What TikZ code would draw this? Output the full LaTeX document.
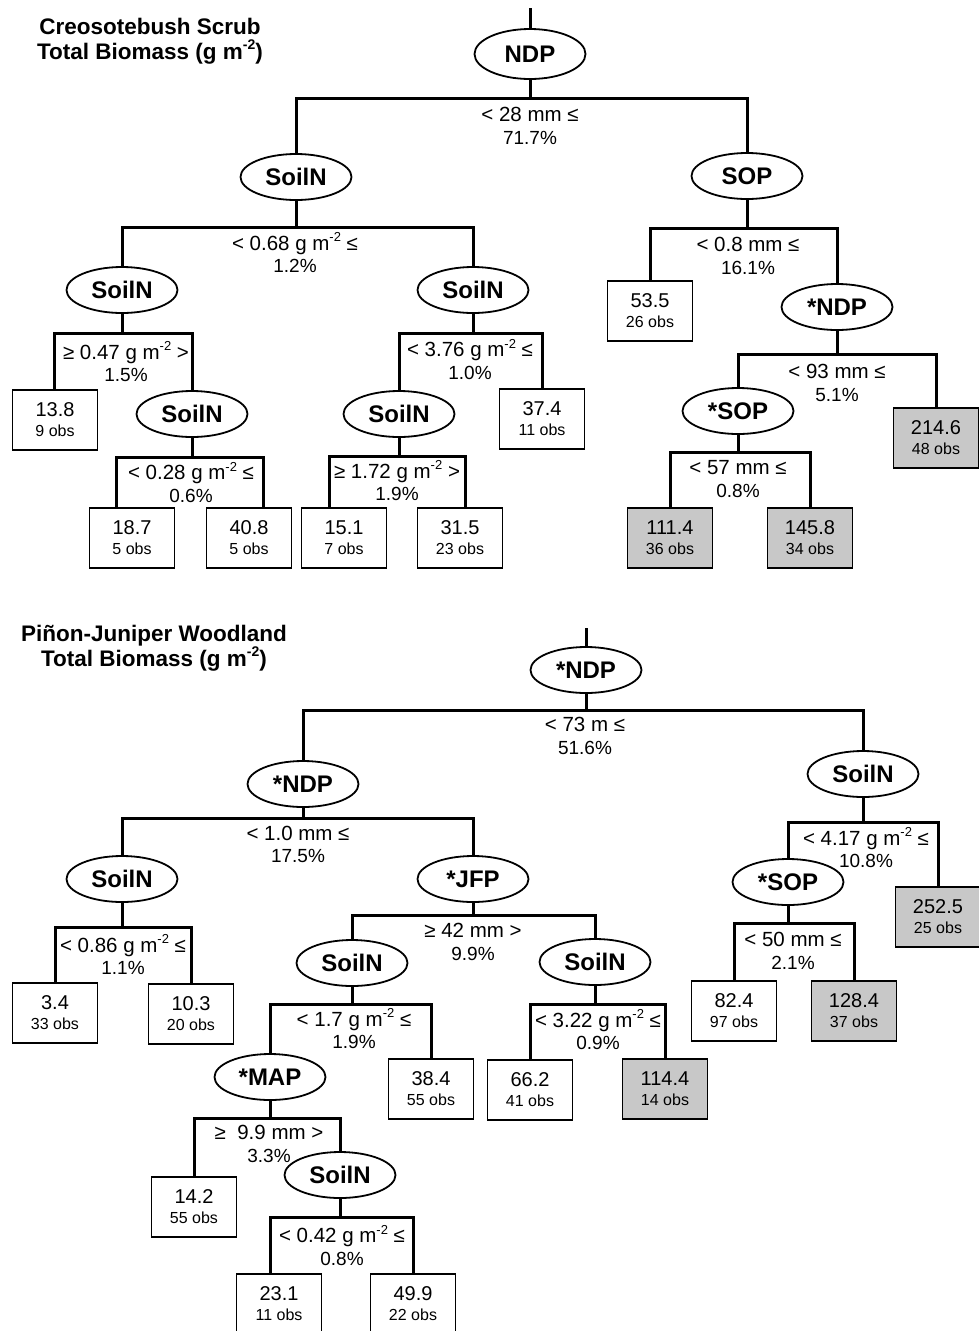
\documentclass[tikz,border=0pt]{standalone}
\usepackage{fontspec}
\setmainfont{Liberation Sans}
\usetikzlibrary{shapes.geometric,calc}
\definecolor{leafgray}{RGB}{200,200,200}
\newcommand\mmtwo{\smash{\raisebox{8.5pt}{\fontsize{13}{13}\selectfont -2}}}
\newcommand\tsupr{\smash{\raisebox{9.5pt}{\fontsize{14}{14}\selectfont -2}}}
\newcommand\lfx[2]{{\fontsize{20}{20}\selectfont #1}\\#2}
\newcommand\lbl[2]{{\fontsize{20.5}{22.5}\selectfont #1}\\#2}
\newcommand\treesplit[6]{%
  \coordinate (#1-bar) at (#1.south |- 0,#4);
  \draw[conn] ($(#2.north)+(#5,0)$) -- ($(#2.north |- #1-bar)+(#5,0)$) -- ($(#3.north |- #1-bar)+(#6,0)$) -- ($(#3.north)+(#6,0)$);
  \draw[conn] (#1.south) -- (#1-bar);
}
\tikzset{
  ell/.style={ellipse, draw, line width=1.8pt, minimum width=111pt, minimum height=46pt, inner sep=0pt, font=\fontsize{24}{24}\selectfont\bfseries},
  leaf/.style={rectangle, draw, line width=1.8pt, minimum width=85pt, minimum height=60pt, inner sep=0pt, align=center, font=\fontsize{16}{20}\selectfont, fill=white},
  gleaf/.style={leaf, fill=leafgray},
  lab/.style={align=center, inner sep=0pt, font=\fontsize{19}{22.5}\selectfont},
  conn/.style={line width=3pt},
  ttl/.style={align=center, inner sep=0pt, font=\fontsize{22.5}{25}\selectfont\bfseries},
}
\begin{document}
\begin{tikzpicture}[x=1pt,y=-1pt]
\useasboundingbox (0,0) rectangle (979,1331);
\clip (0,0) rectangle (979,1331);
\fill[white] (0,0) rectangle (979,1331);

% ---------------- Top tree ----------------
\node[ttl] (title1) at (150,41) {Creosotebush Scrub\\Total Biomass (g m\tsupr)};

\node[ell, minimum height=50pt] (t0) at (530,54) {NDP};
\node[ell] (t1) at (296,177) {SoilN};
\node[ell] (t2) at (747,176) {SOP};
\node[ell] (t3) at (122,290) {SoilN};
\node[ell] (t4) at (473,290) {SoilN};
\node[ell] (t5) at (192,414) {SoilN};
\node[ell] (t6) at (399,414) {SoilN};
\node[ell] (t7) at (837,307) {*NDP};
\node[ell] (t8) at (738,411) {*SOP};

\node[leaf] (l138) at (55,420) {\lfx{13.8}{9 obs}};
\node[leaf] (l187) at (132,538) {\lfx{18.7}{5 obs}};
\node[leaf] (l408) at (249,538) {\lfx{40.8}{5 obs}};
\node[leaf] (l374) at (542,419) {\lfx{37.4}{11 obs}};
\node[leaf] (l151) at (344,538) {\lfx{15.1}{7 obs}};
\node[leaf] (l315) at (460,538) {\lfx{31.5}{23 obs}};
\node[leaf] (l535) at (650,311) {\lfx{53.5}{26 obs}};
\node[gleaf] (l2146) at (936,438) {\lfx{214.6}{48 obs}};
\node[gleaf] (l1114) at (670,538) {\lfx{111.4}{36 obs}};
\node[gleaf] (l1458) at (810,538) {\lfx{145.8}{34 obs}};

\node[lab] (c1) at (530,126) {\lbl{< 28 mm ≤}{71.7\%}};
\node[lab] (c2) at (295,254.5) {\lbl{< 0.68 g m\mmtwo{} ≤}{1.2\%}};
\node[lab] (c3) at (126,363.5) {\lbl{≥ 0.47 g m\mmtwo{} >}{1.5\%}};
\node[lab] (c4) at (191,484) {\lbl{< 0.28 g m\mmtwo{} ≤}{0.6\%}};
\node[lab] (c5) at (470,361) {\lbl{< 3.76 g m\mmtwo{} ≤}{1.0\%}};
\node[lab] (c6) at (397,482.5) {\lbl{≥ 1.72 g m\mmtwo{} >}{1.9\%}};
\node[lab] (c7) at (748,256) {\lbl{< 0.8 mm ≤}{16.1\%}};
\node[lab] (c8) at (837,383) {\lbl{< 93 mm ≤}{5.1\%}};
\node[lab] (c9) at (738,479) {\lbl{< 57 mm ≤}{0.8\%}};

\coordinate (r0) at (530,8);
\draw[conn] (r0) -- (t0.north);
\treesplit{t0}{t1}{t2}{98}{0}{0}
\treesplit{t1}{t3}{t4}{227}{0}{0}
\treesplit{t3}{l138}{t5}{333}{-1}{0}
\treesplit{t5}{l187}{l408}{457}{-16}{14}
\treesplit{t4}{t6}{l374}{333}{0}{0}
\treesplit{t6}{l151}{l315}{456}{-15}{5}
\treesplit{t2}{l535}{t7}{228}{0}{0}
\treesplit{t7}{t8}{l2146}{354}{0}{0}
\treesplit{t8}{l1114}{l1458}{452}{0}{0}

% ---------------- Bottom tree ----------------
\node[ttl] (title2) at (154,648) {Piñon-Juniper Woodland\\Total Biomass (g m\tsupr)};

\node[ell] (b0) at (586,670) {*NDP};
\node[ell] (b1) at (303,784) {*NDP};
\node[ell] (b2) at (863,774) {SoilN};
\node[ell] (b3) at (122,879) {SoilN};
\node[ell] (b4) at (473,879) {*JFP};
\node[ell] (b5) at (352,963) {SoilN};
\node[ell] (b6) at (595,962) {SoilN};
\node[ell] (b7) at (270,1077) {*MAP};
\node[ell] (b8) at (340,1175) {SoilN};
\node[ell] (b9) at (788,882) {*SOP};

\node[leaf] (l34) at (55,1013) {\lfx{3.4}{33 obs}};
\node[leaf] (l103) at (191,1014) {\lfx{10.3}{20 obs}};
\node[leaf] (l384) at (431,1089) {\lfx{38.4}{55 obs}};
\node[leaf] (l142) at (194,1207) {\lfx{14.2}{55 obs}};
\node[leaf] (l231) at (279,1304) {\lfx{23.1}{11 obs}};
\node[leaf] (l499) at (413,1304) {\lfx{49.9}{22 obs}};
\node[leaf] (l662) at (530,1090) {\lfx{66.2}{41 obs}};
\node[gleaf] (l1144) at (665,1089) {\lfx{114.4}{14 obs}};
\node[gleaf] (l2525) at (938,917) {\lfx{252.5}{25 obs}};
\node[leaf] (l824) at (734,1011) {\lfx{82.4}{97 obs}};
\node[gleaf] (l1284) at (854,1011) {\lfx{128.4}{37 obs}};

\node[lab] (d1) at (585,736) {\lbl{< 73 m ≤}{51.6\%}};
\node[lab] (d2) at (298,844.5) {\lbl{< 1.0 mm ≤}{17.5\%}};
\node[lab] (d3) at (123,956.5) {\lbl{< 0.86 g m\mmtwo{} ≤}{1.1\%}};
\node[lab] (d4) at (473,942) {\lbl{≥ 42 mm >}{9.9\%}};
\node[lab] (d5) at (354,1030.5) {\lbl{< 1.7 g m\mmtwo{} ≤}{1.9\%}};
\node[lab] (d6) at (269,1144) {\lbl{≥\ \ 9.9 mm >}{3.3\%}};
\node[lab] (d7) at (342,1247) {\lbl{< 0.42 g m\mmtwo{} ≤}{0.8\%}};
\node[lab] (d8) at (598,1031.5) {\lbl{< 3.22 g m\mmtwo{} ≤}{0.9\%}};
\node[lab] (d9) at (866,849.5) {\lbl{< 4.17 g m\mmtwo{} ≤}{10.8\%}};
\node[lab] (d10) at (793,951) {\lbl{< 50 mm ≤}{2.1\%}};

\coordinate (r1) at (586,628);
\draw[conn] (r1) -- (b0.north);
\treesplit{b0}{b1}{b2}{710}{0}{0}
\treesplit{b1}{b3}{b4}{818}{0}{0}
\treesplit{b3}{l34}{l103}{927}{0}{0}
\treesplit{b4}{b5}{b6}{915}{0}{0}
\treesplit{b5}{b7}{l384}{1004}{0}{0}
\treesplit{b7}{l142}{b8}{1118}{0}{0}
\treesplit{b8}{l231}{l499}{1217}{-9}{0}
\treesplit{b6}{l662}{l1144}{1004}{0}{0}
\treesplit{b2}{b9}{l2525}{822}{0}{0}
\treesplit{b9}{l824}{l1284}{923}{0}{0}
\end{tikzpicture}
\end{document}
